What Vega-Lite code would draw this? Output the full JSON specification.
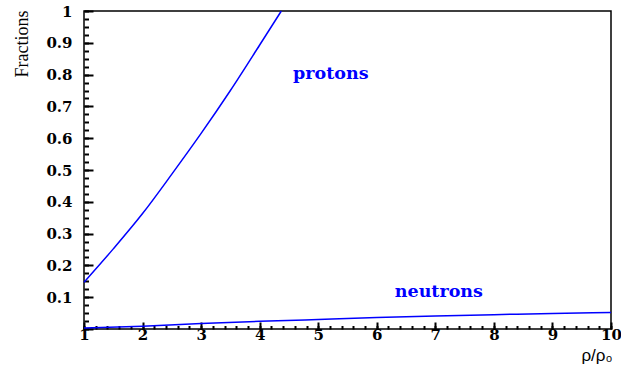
{
  "$schema": "https://vega.github.io/schema/vega-lite/v6.json",
  "width": 527,
  "height": 318,
  "autosize": {"type": "none"},
  "padding": {"left": 84, "top": 11, "right": 10, "bottom": 38},
  "background": "white",
  "config": {
    "view": {"stroke": "black", "strokeWidth": 1.5},
    "axis": {"domain": false, "grid": false, "labelColor": "black", "titleColor": "black", "tickWidth": 2}
  },
  "datasets": {
    "protons": [
      {"rho": 1.0, "frac": 0.147},
      {"rho": 1.5, "frac": 0.252},
      {"rho": 2.0, "frac": 0.363},
      {"rho": 2.5, "frac": 0.487},
      {"rho": 3.0, "frac": 0.615},
      {"rho": 3.5, "frac": 0.75},
      {"rho": 4.0, "frac": 0.893},
      {"rho": 4.37, "frac": 1.0}
    ],
    "neutrons": [
      {"rho": 1, "frac": 0.003},
      {"rho": 2, "frac": 0.009},
      {"rho": 3, "frac": 0.017},
      {"rho": 4, "frac": 0.024},
      {"rho": 5, "frac": 0.030},
      {"rho": 6, "frac": 0.036},
      {"rho": 7, "frac": 0.041},
      {"rho": 8, "frac": 0.045},
      {"rho": 9, "frac": 0.049},
      {"rho": 10, "frac": 0.052}
    ],
    "labels": [
      {"rho": 5.215, "frac": 0.802, "label": "protons"},
      {"rho": 7.06, "frac": 0.117, "label": "neutrons"}
    ]
  },
  "layer": [
    {
      "data": {"name": "protons"},
      "mark": {"type": "line", "color": "#0000ff", "strokeWidth": 1.5, "interpolate": "monotone"},
      "encoding": {
        "x": {
          "field": "rho", "type": "quantitative",
          "scale": {"domain": [1, 10], "nice": false, "zero": false},
          "axis": {
            "orient": "bottom", "values": [1, 2, 3, 4, 5, 6, 7, 8, 9, 10],
            "tickSize": -7, "tickColor": "black", "labelPadding": 5, "labelFlush": false,
            "labelFont": "DejaVu Serif", "labelFontWeight": "bold", "labelFontSize": 15,
            "title": null
          }
        },
        "y": {
          "field": "frac", "type": "quantitative",
          "scale": {"domain": [0, 1], "nice": false},
          "axis": {
            "orient": "left", "values": [0, 0.1, 0.2, 0.3, 0.4, 0.5, 0.6, 0.7, 0.8, 0.9, 1],
            "labelExpr": "datum.value == 0 ? '' : format(datum.value, '~g')",
            "tickSize": -9, "tickColor": "black", "labelPadding": 21, "labelFlush": false,
            "labelFont": "DejaVu Serif", "labelFontWeight": "bold", "labelFontSize": 15,
            "title": null
          }
        }
      }
    },
    {
      "data": {"name": "neutrons"},
      "mark": {"type": "line", "color": "#0000ff", "strokeWidth": 1.5, "interpolate": "monotone"},
      "encoding": {
        "x": {
          "field": "rho", "type": "quantitative",
          "axis": {"orient": "bottom", "values": [1, 1.2, 1.4, 1.6, 1.8, 2, 2.2, 2.4, 2.6, 2.8, 3, 3.2, 3.4, 3.6, 3.8, 4, 4.2, 4.4, 4.6, 4.8, 5, 5.2, 5.4, 5.6, 5.8, 6, 6.2, 6.4, 6.6, 6.8, 7, 7.2, 7.4, 7.6, 7.8, 8, 8.2, 8.4, 8.6, 8.8, 9, 9.2, 9.4, 9.6, 9.8, 10], "labels": false, "tickSize": -3.5, "tickColor": "black", "title": "ρ/ρ₀", "titleFont": "Liberation Sans", "titleFontSize": 17, "titleFontWeight": "normal", "titleAnchor": "end", "titleAlign": "right", "titleX": 528, "titleY": 31, "titleBaseline": "alphabetic"}
        },
        "y": {
          "field": "frac", "type": "quantitative",
          "axis": {"orient": "left", "values": [0, 0.025, 0.05, 0.075, 0.1, 0.125, 0.15, 0.175, 0.2, 0.225, 0.25, 0.275, 0.3, 0.325, 0.35, 0.375, 0.4, 0.425, 0.45, 0.475, 0.5, 0.525, 0.55, 0.575, 0.6, 0.625, 0.65, 0.675, 0.7, 0.725, 0.75, 0.775, 0.8, 0.825, 0.85, 0.875, 0.9, 0.925, 0.95, 0.975, 1], "labels": false, "tickSize": -4.5, "tickColor": "black", "title": "Fractions", "titleFont": "Liberation Serif", "titleFontSize": 18, "titleFontWeight": "normal", "titleAngle": -90, "titleX": -57, "titleY": -1, "titleAlign": "right", "titleBaseline": "alphabetic"}
        }
      }
    },
    {
      "data": {"name": "labels"},
      "mark": {"type": "text", "color": "#0000ff", "font": "DejaVu Serif", "fontWeight": "bold", "fontSize": 17.5, "align": "center", "baseline": "middle"},
      "encoding": {
        "x": {"field": "rho", "type": "quantitative", "axis": null},
        "y": {"field": "frac", "type": "quantitative", "axis": null},
        "text": {"field": "label", "type": "nominal"}
      }
    }
  ],
  "resolve": {"axis": {"x": "independent", "y": "independent"}}
}
